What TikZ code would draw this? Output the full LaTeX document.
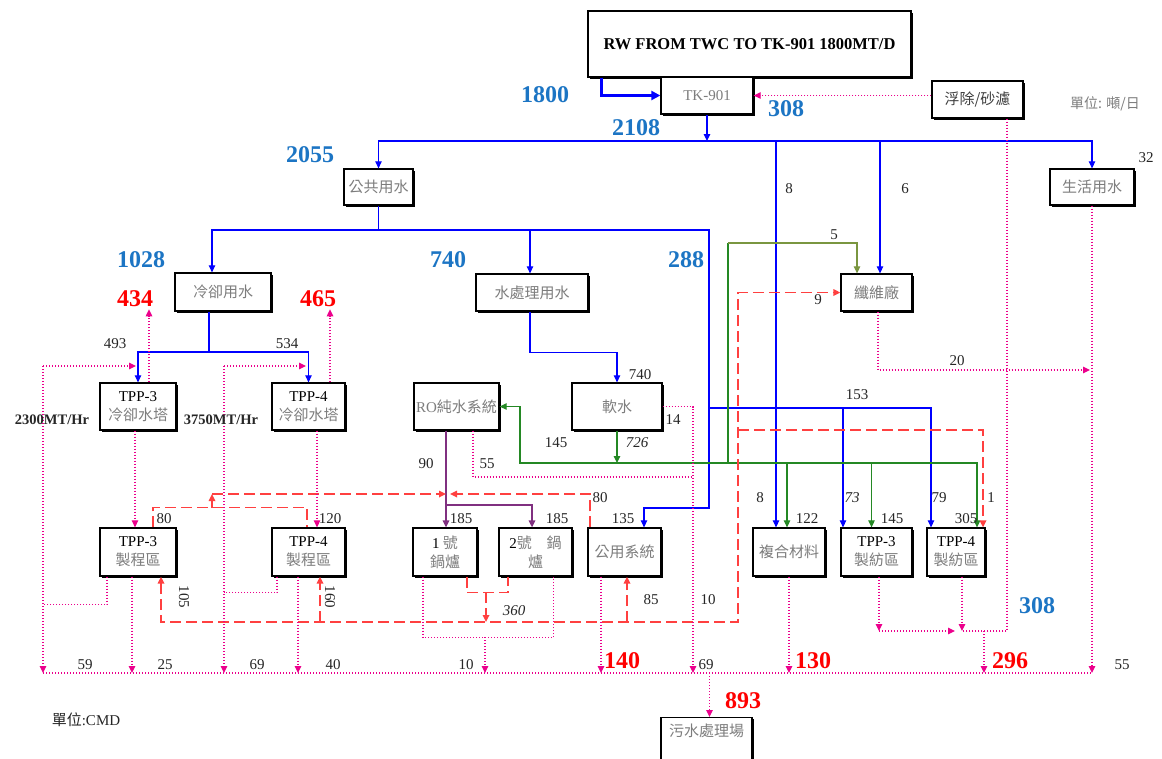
\documentclass[tikz,border=0pt]{standalone}
\usepackage{fontspec}
\setmainfont{Liberation Serif}
\newfontfamily\zh{Noto Sans CJK TC}
\usetikzlibrary{positioning,arrows.meta,shadows}
\definecolor{numblue}{RGB}{28,117,196}
\definecolor{boxgray}{RGB}{125,125,125}
\definecolor{rdash}{RGB}{255,64,64}
\definecolor{swgreen}{RGB}{36,136,36}
\definecolor{olivegreen}{RGB}{122,150,64}
\definecolor{ropurple}{RGB}{128,48,128}
\newcommand\tpp[1]{\textcolor{black}{\rmfamily #1}}
\tikzset{
  unit/.style   = {draw, line width=1.3pt, fill=white, text=boxgray, inner sep=0pt, align=center,
                   font=\zh\fontsize{15}{19}\selectfont,
                   drop shadow={shadow xshift=1.8pt, shadow yshift=-1.8pt, fill=black, opacity=1}},
  bignum/.style = {inner sep=0pt, text=numblue, font=\bfseries\fontsize{24}{24}\selectfont},
  rednum/.style = {bignum, text=red},
  qty/.style    = {inner sep=0pt, text=black!85, font=\fontsize{15}{15}\selectfont},
  qtyit/.style  = {qty, font=\itshape\fontsize{15}{15}\selectfont},
  cw/.style     = {draw=blue, line width=1.1pt},
  sw/.style     = {draw=swgreen, line width=1.2pt},
  olv/.style    = {draw=olivegreen, line width=1.2pt},
  pl/.style     = {draw=ropurple, line width=1.4pt},
  rd/.style     = {draw=rdash, line width=1.6pt, dash pattern=on 11pt off 5pt},
  ww/.style     = {draw=magenta, line width=1.2pt, dash pattern=on 1.2pt off 1.8pt}
}
\begin{document}
\begin{tikzpicture}[x=1pt, y=-1pt, >={Triangle[length=7pt,width=6.5pt]}]
\fill[white] (0,0) rectangle (1162,758);
\useasboundingbox (0,0) rectangle (1162,758);

\node[unit, minimum width=323, minimum height=66, text=black, font=\bfseries\fontsize{16.5}{18}\selectfont] (rw) at (749.5,44) {RW FROM TWC TO TK-901 1800MT/D};
\node[unit, minimum width=92, minimum height=37, font=\fontsize{15}{17}\selectfont] (tk) at (707,95.5) {TK-901};
\node[unit, minimum width=91, minimum height=37, text=black!75] (fuchu) at (977.5,99.5) {浮除/砂濾};
\node[unit, minimum width=69, minimum height=36] (gongong) at (378.5,187) {公共用水};
\node[unit, minimum width=84, minimum height=36] (shenghuo) at (1092,187) {生活用水};
\node[unit, minimum width=96, minimum height=38] (lengque) at (223,292) {冷卻用水};
\node[unit, minimum width=112, minimum height=37] (shuichuli) at (532,292.5) {水處理用水};
\node[unit, minimum width=71, minimum height=37] (xianwei) at (876.5,292.5) {纖維廠};
\node[unit, minimum width=76, minimum height=47] (ct3) at (138,406.5) {\tpp{TPP-3}\\冷卻水塔};
\node[unit, minimum width=73, minimum height=47] (ct4) at (308.5,406.5) {\tpp{TPP-4}\\冷卻水塔};
\node[unit, minimum width=85, minimum height=47] (ro) at (456.5,406.5) {{\rmfamily RO}純水系統};
\node[unit, minimum width=90, minimum height=47] (ruanshui) at (617,406.5) {軟水};
\node[unit, minimum width=76, minimum height=48] (pa3) at (138,552) {\tpp{TPP-3}\\製程區};
\node[unit, minimum width=73, minimum height=48] (pa4) at (308.5,552) {\tpp{TPP-4}\\製程區};
\node[unit, minimum width=64, minimum height=48] (b1) at (445,552) {\tpp{1} 號\\鍋爐};
\node[unit, minimum width=73, minimum height=48] (b2) at (535.5,552) {\tpp{2}號\quad 鍋\\爐};
\node[unit, minimum width=73, minimum height=48] (gongyong) at (624.5,552) {公用系統};
\node[unit, minimum width=72, minimum height=48] (fuhe) at (789,552) {複合材料};
\node[unit, minimum width=71, minimum height=48] (sp3) at (876.5,552) {\tpp{TPP-3}\\製紡區};
\node[unit, minimum width=58, minimum height=48] (sp4) at (956,552) {\tpp{TPP-4}\\製紡區};
\node[unit, anchor=north, minimum width=91, text height=13pt, text depth=40pt, inner ysep=6pt] (wwtp) at (706.5,717) {污水處理場};

\node[inner sep=0pt, text=boxgray, font=\zh\fontsize{14}{14}\selectfont] (unitday) at (1105,104) {單位: 噸/日};
\node[inner sep=0pt, text=black!85, font=\zh\fontsize{15}{15}\selectfont] (unitcmd) at (86,720) {單位{\rmfamily :CMD}};

\coordinate (mainbus) at (0,141);
\coordinate (pubbus) at (0,230);
\coordinate (ctbus) at (0,352);
\coordinate (fibreww) at (0,370);
\coordinate (spbus) at (0,408);
\coordinate (swbus) at (0,463);
\coordinate (rdtop) at (0,494);
\coordinate (rdbot) at (0,622);
\coordinate (spww) at (0,631);
\coordinate (wwbus) at (0,673);
\coordinate (utilturn) at (709,508);
\coordinate (rdturn) at (738,622);
\coordinate (rdmid) at (738,430);
\coordinate (fibre5) at (728,243);
\coordinate (swleft) at (520,463);
\coordinate (boilsplit) at (446,505);
\coordinate (rdjoin) at (212,508);
\coordinate (boilmix) at (486,592);
\coordinate (boilww) at (485,637);
\coordinate (wwleft) at (43,366);
\coordinate (wwmid) at (224,366);
\coordinate (softdrop) at (693,477);
\coordinate (spout) at (984,631);

\draw[cw, line width=3pt, -{Triangle[length=9pt,width=9pt]}] ([xshift=-148.5pt]rw.south) |- (tk.west);
\draw[cw,->] (tk.south) -- (tk.south |- mainbus);
\draw[cw,<->] (gongong.north) |- (shenghuo.north |- mainbus) -- (shenghuo.north);
\draw[cw,->] ([xshift=-13pt]fuhe.north |- mainbus) -- ([xshift=-13pt]fuhe.north);
\draw[cw,->] ([xshift=3.5pt]xianwei.north |- mainbus) -- ([xshift=3.5pt]xianwei.north);
\draw[cw] (gongong.south) -- (gongong.south |- pubbus);
\draw[cw,<->] ([xshift=-11pt]lengque.north) |- (utilturn |- pubbus) -- (utilturn) -| ([xshift=19.5pt]gongyong.north);
\draw[cw,->] ([xshift=-2pt]shuichuli.north |- pubbus) -- ([xshift=-2pt]shuichuli.north);
\draw[cw,->] (utilturn |- spbus) -- ([xshift=-25pt]sp4.north |- spbus) -- ([xshift=-25pt]sp4.north);
\draw[cw,->] ([xshift=-33.5pt]sp3.north |- spbus) -- ([xshift=-33.5pt]sp3.north);
\draw[cw] ([xshift=-14pt]lengque.south) -- ([xshift=-14pt]lengque.south |- ctbus);
\draw[cw,<->] (ct3.north) |- (ct4.north |- ctbus) -- (ct4.north);
\draw[cw,->] ([xshift=-2pt]shuichuli.south) -- ++(0,41) -| (ruanshui.north);

\draw[sw,->] (ruanshui.south) -- (ruanshui.south |- swbus);
\draw[sw,<->] (ro.east) -| (swleft) -- ([xshift=21pt]sp4.north |- swbus) -- ([xshift=21pt]sp4.north);
\draw[sw,->] ([xshift=-2pt]fuhe.north |- swbus) -- ([xshift=-2pt]fuhe.north);
\draw[sw,->] ([xshift=-5pt]sp3.north |- swbus) -- ([xshift=-5pt]sp3.north);
\draw[sw] (fibre5 |- swbus) -- (fibre5);
\draw[olv,->] (fibre5) -| ([xshift=-19.5pt]xianwei.north);

\draw[pl,->] ([xshift=-10.5pt]ro.south) -- (boilsplit |- b1.north);
\draw[pl,->] (boilsplit) -| ([xshift=-3.5pt]b2.north);

\draw[rd] ([xshift=15pt]pa3.north) -- ++(0,-20) -| ([xshift=-1.5pt]pa4.north);
\draw[rd,->] (rdjoin) -- (rdjoin |- rdtop);
\draw[rd,->] (rdjoin |- rdtop) -- (boilsplit |- rdtop);
\draw[rd,->] ([xshift=-34.5pt]gongyong.north) |- ([xshift=4pt]boilsplit |- rdtop);
\draw[rd,<->] ([xshift=23pt]pa3.south) |- (rdturn) |- (xianwei.west);
\draw[rd,->] ([xshift=11.5pt]pa4.south |- rdbot) -- ([xshift=11.5pt]pa4.south);
\draw[rd,->] ([xshift=2.5pt]gongyong.south |- rdbot) -- ([xshift=2.5pt]gongyong.south);
\draw[rd,->] (rdmid) -| ([xshift=27pt]sp4.north);
\draw[rd] ([xshift=22pt]b1.south) -- ++(0,16) -| ([xshift=-27.5pt]b2.south);
\draw[rd,->] (boilmix) -- (boilmix |- rdbot);

\draw[ww,->] (fuchu.west |- tk.east) -- (tk.east);
\draw[ww] (wwleft |- wwbus) -- (shenghuo.south |- wwbus);
\draw[ww,->] (wwleft) -- ([xshift=-2pt]ct3.north |- wwleft);
\draw[ww,->] (wwleft) -- (wwleft |- wwbus);
\draw[ww,->] (wwmid) -- ([xshift=-2.5pt]ct4.north |- wwmid);
\draw[ww,->] (wwmid) -- (wwmid |- wwbus);
\draw[ww,->] ([xshift=11pt]ct3.north) -- ++(0,-73);
\draw[ww,->] ([xshift=21.5pt]ct4.north) -- ++(0,-73);
\draw[ww,->] ([xshift=-3pt]ct3.south) -- ([xshift=-3pt]pa3.north);
\draw[ww,->] ([xshift=8.5pt]ct4.south) -- ([xshift=8.5pt]pa4.north);
\draw[ww] ([xshift=-31pt]pa3.south) -- ++(0,28) -- ++(-64,0);
\draw[ww] ([xshift=-31.5pt]pa4.south) -- ++(0,16) -- ++(-53.5,0);
\draw[ww,->] ([xshift=-6pt]pa3.south) -- ([xshift=-6pt]pa3.south |- wwbus);
\draw[ww,->] ([xshift=-10.5pt]pa4.south) -- ([xshift=-10.5pt]pa4.south |- wwbus);
\draw[ww] ([xshift=-22pt]b1.south) -- ++(0,61) -| ([xshift=18pt]b2.south);
\draw[ww,->] (boilww) -- (boilww |- wwbus);
\draw[ww,->] ([xshift=-23.5pt]gongyong.south) -- ([xshift=-23.5pt]gongyong.south |- wwbus);
\draw[ww,->] (ruanshui.east) -| (softdrop |- wwbus);
\draw[ww] ([xshift=16.5pt]ro.south) |- (softdrop);
\draw[ww,->] (fuhe.south) -- (fuhe.south |- wwbus);
\draw[ww,->] (shenghuo.south) -- (shenghuo.south |- wwbus);
\draw[ww,->] ([xshift=1.5pt]xianwei.south) |- ([xshift=-2pt]shenghuo.south |- fibreww);
\draw[ww] ([xshift=29.5pt]fuchu.south) |- ([xshift=6pt]sp4.south |- spww);
\draw[ww,->] ([xshift=2.5pt]sp3.south) -- ([xshift=2.5pt]sp3.south |- spww);
\draw[ww,->] ([xshift=2.5pt]sp3.south |- spww) -- ([xshift=-1pt]sp4.south |- spww);
\draw[ww,->] ([xshift=6pt]sp4.south) -- ([xshift=6pt]sp4.south |- spww);
\draw[ww,->] (spout) -- (spout |- wwbus);
\draw[ww,->] ([xshift=3pt]wwtp.north |- wwbus) -- ([xshift=3pt]wwtp.north);

\node[bignum] (in1800) at (545,95) {1800};
\node[bignum] (rec308) at (786,109) {308};
\node[bignum] (tot2108) at (636,128) {2108};
\node[bignum] (pub2055) at (310,155) {2055};
\node[bignum] (cool1028) at (141,260) {1028};
\node[bignum] (treat740) at (448,260) {740};
\node[bignum] (util288) at (686,260) {288};
\node[bignum] (back308) at (1037,606) {308};

\node[rednum] (evap434) at (135,299) {434};
\node[rednum] (evap465) at (318,299) {465};
\node[rednum] (out140) at (622,661) {140};
\node[rednum] (out130) at (813,661) {130};
\node[rednum] (out296) at (1010,661) {296};
\node[rednum] (out893) at (743,701) {893};

\node[qty] (q8a) at (789,189) {8};
\node[qty] (q6) at (905,189) {6};
\node[qty] (q32) at (1146,158) {32};
\node[qty] (q5) at (834,235) {5};
\node[qty] (q9) at (818,300) {9};
\node[qty] (q20) at (957,361) {20};
\node[qty] (q493) at (115,344) {493};
\node[qty] (q534) at (287,344) {534};
\node[qty, font=\bfseries\fontsize{14.5}{15}\selectfont] (hr3) at (52,420) {2300MT/Hr};
\node[qty, font=\bfseries\fontsize{14.5}{15}\selectfont] (hr4) at (221,420) {3750MT/Hr};
\node[qty] (q740) at (640,375) {740};
\node[qty] (q14) at (673,420) {14};
\node[qty] (q145a) at (556,443) {145};
\node[qtyit] (q726) at (637,443) {726};
\node[qty] (q90) at (426,464) {90};
\node[qty] (q55a) at (487,464) {55};
\node[qty] (q153) at (857,395) {153};
\node[qty] (q80a) at (164,519) {80};
\node[qty] (q120) at (330,519) {120};
\node[qty] (q185a) at (461,519) {185};
\node[qty] (q185b) at (557,519) {185};
\node[qty] (q80b) at (600,498) {80};
\node[qty] (q135) at (623,519) {135};
\node[qty] (q8b) at (760,498) {8};
\node[qty] (q122) at (807,519) {122};
\node[qtyit] (q73) at (852,498) {73};
\node[qty] (q145b) at (892,519) {145};
\node[qty] (q79) at (939,498) {79};
\node[qty] (q305) at (966,519) {305};
\node[qty] (q1) at (991,498) {1};
\node[qty, rotate=-90] (q105) at (184,597) {105};
\node[qty, rotate=-90] (q160) at (330,597) {160};
\node[qty] (q85) at (651,600) {85};
\node[qty] (q10a) at (708,600) {10};
\node[qtyit] (q360) at (514,611) {360};
\node[qty] (q59) at (85,665) {59};
\node[qty] (q25) at (165,665) {25};
\node[qty] (q69a) at (257,665) {69};
\node[qty] (q40) at (333,665) {40};
\node[qty] (q10b) at (466,665) {10};
\node[qty] (q69b) at (706,665) {69};
\node[qty] (q55b) at (1122,665) {55};
\end{tikzpicture}
\end{document}
